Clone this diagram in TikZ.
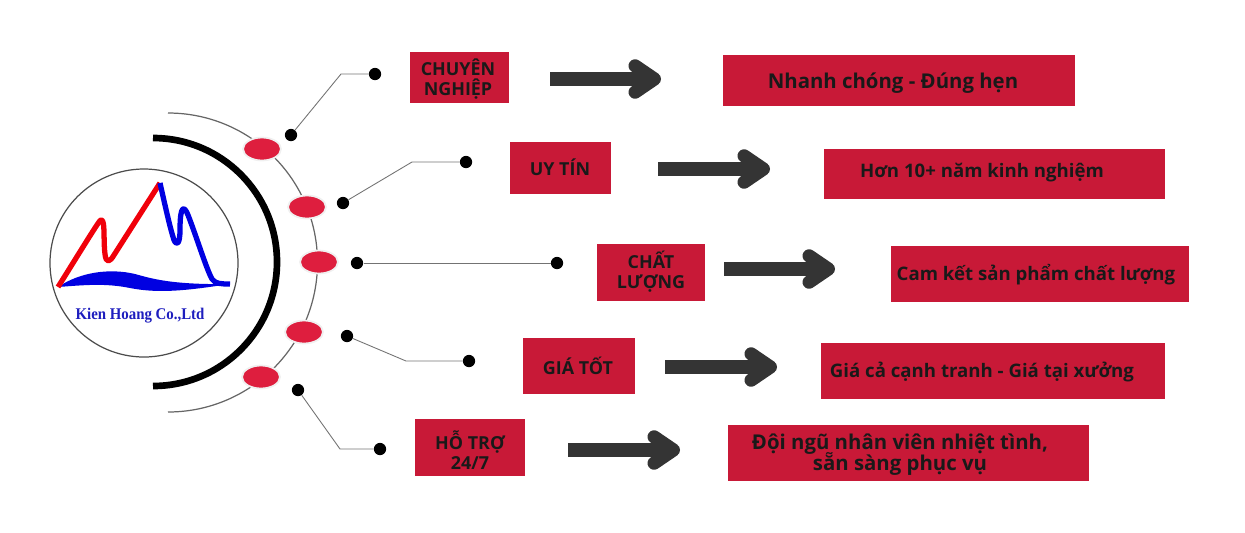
\documentclass[tikz,border=0pt]{standalone}
\usepackage{fontspec}
\setmainfont{Open Sans}
\newfontfamily\logofont{Liberation Serif}
\usetikzlibrary{arrows.meta,shapes.geometric}
\definecolor{boxred}{RGB}{200,25,55}
\definecolor{dotred}{RGB}{222,30,62}
\definecolor{arrowgray}{RGB}{52,52,52}
\definecolor{logoblue}{RGB}{0,0,225}
\definecolor{logotextblue}{RGB}{30,30,190}
\definecolor{logored}{RGB}{240,0,10}
\tikzset{
    labelbox/.style={fill=boxred,inner sep=0pt,align=center,font=\bfseries\fontsize{10.2}{11.5}\selectfont,text=black!90},
    resultbox/.style={fill=boxred,inner sep=0pt,align=center,font=\bfseries\fontsize{10.6}{12.4}\selectfont,text=black!90},
    bigtext/.style={font=\bfseries\fontsize{11.6}{12.4}\selectfont},
    reddot/.style={ellipse,fill=dotred,draw=black!6,line width=1pt,inner sep=0pt,minimum width=38*0.02cm,minimum height=23*0.02cm},
    blackdot/.style={circle,fill=black,inner sep=0pt,minimum size=7pt},
    leader/.style={draw=black!55,line width=0.5pt},
    bigarrow/.style={draw=arrowgray,line width=8.5pt,-{Straight Barb[length=11pt,width=15pt,line width=7.5pt,round]}}
}
\begin{document}
\begin{tikzpicture}[x=0.02cm,y=-0.02cm]
    \useasboundingbox (0,0) rectangle (1245,532);

    % Draw the logo
    \node[circle,draw=black!70,line width=0.7pt,minimum size=188*0.02cm,inner sep=0pt] (logo) at (144,263) {};
    \fill[logoblue] (58,287) .. controls (80,272) and (110,268) .. (135,274) .. controls (150,278) and (170,285) .. (230,284) .. controls (190,290) and (160,294) .. (130,288) .. controls (105,283) and (85,285) .. (58,287);
    \draw[logored,line width=3pt,line join=round] (58,287) .. controls (75,260) and (92,232) .. (99,222) .. controls (106,212) and (103,240) .. (105,254) .. controls (106,264) and (110,262) .. (114,255) -- (160,183);
    \draw[logoblue,line width=3pt,line join=round] (160,183) .. controls (165,205) and (170,228) .. (174,240) .. controls (177,247) and (180,243) .. (180,230) .. controls (180,205) and (184,205) .. (188,215) .. controls (197,238) and (206,268) .. (212,279) .. controls (215,284) and (222,284) .. (230,284);
    \node[text=logotextblue,font=\logofont\bfseries\fontsize{9.3}{10}\selectfont,inner sep=0pt,xscale=0.91] (logotext) at (140,316) {Kien Hoang Co.,Ltd};

    % Draw the arcs
    \draw[black,line width=3.8pt] (153,138) arc (-90:90:124);
    \draw[black!60,line width=0.7pt] (168,113) arc (-90:90:149.5);

    % Draw the red dots
    \node[reddot] (red1) at (262,149) {};
    \node[reddot] (red2) at (307,207) {};
    \node[reddot] (red3) at (319,262) {};
    \node[reddot] (red4) at (304,332) {};
    \node[reddot] (red5) at (261,377) {};

    % Draw the leaders
    \node[blackdot] (near1) at (291,135) {};
    \node[blackdot] (near2) at (343,203) {};
    \node[blackdot] (near3) at (357,263) {};
    \node[blackdot] (near4) at (347,336) {};
    \node[blackdot] (near5) at (298,390) {};
    \node[blackdot] (far1) at (375,74) {};
    \node[blackdot] (far2) at (466,162) {};
    \node[blackdot] (far3) at (557,263) {};
    \node[blackdot] (far4) at (469,361) {};
    \node[blackdot] (far5) at (380,449) {};
    \coordinate (bend1) at (341,74);
    \coordinate (bend2) at (412,162);
    \coordinate (bend4) at (406,361);
    \coordinate (bend5) at (340,449);
    \draw[leader] (near1) -- (bend1) -- (far1);
    \draw[leader] (near2) -- (bend2) -- (far2);
    \draw[leader] (near3) -- (far3);
    \draw[leader] (near4) -- (bend4) -- (far4);
    \draw[leader] (near5) -- (bend5) -- (far5);

    % Draw the labels
    \node[labelbox,minimum width=99*0.02cm,minimum height=51*0.02cm] (label1) at (459.5,77.5) {};
    \node[labelbox,minimum width=101*0.02cm,minimum height=52*0.02cm] (label2) at (560.5,168) {};
    \node[labelbox,minimum width=108*0.02cm,minimum height=57*0.02cm] (label3) at (651,272.5) {};
    \node[labelbox,minimum width=112*0.02cm,minimum height=56*0.02cm] (label4) at (579,366) {};
    \node[labelbox,minimum width=110*0.02cm,minimum height=57*0.02cm] (label5) at (470,447.5) {};
    \node[labelbox,fill=none] (name1) at (458,79) {CHUYÊN\\[-0.6pt]NGHIỆP};
    \node[labelbox,fill=none] (name2) at (560,167) {UY TÍN};
    \node[labelbox,fill=none] (name3) at (651,272) {CHẤT\\LƯỢNG};
    \node[labelbox,fill=none] (name4) at (578,366) {GIÁ TỐT};
    \node[labelbox,fill=none] (name5) at (470,450) {HỖ TRỢ\\24/7};

    % Draw the results
    \node[resultbox,minimum width=352*0.02cm,minimum height=51*0.02cm] (result1) at (899,80.5) {};
    \node[resultbox,minimum width=341*0.02cm,minimum height=50*0.02cm] (result2) at (994.5,174) {};
    \node[resultbox,minimum width=298*0.02cm,minimum height=56*0.02cm] (result3) at (1040,274) {};
    \node[resultbox,minimum width=344*0.02cm,minimum height=56*0.02cm] (result4) at (993,371) {};
    \node[resultbox,minimum width=361*0.02cm,minimum height=56*0.02cm] (result5) at (908.5,453) {};
    \node[resultbox,bigtext,fill=none] (text1) at (893,83) {Nhanh chóng - Đúng hẹn};
    \node[resultbox,fill=none] (text2) at (982,173) {Hơn 10+ năm kinh nghiệm};
    \node[resultbox,fill=none] (text3) at (1036,275) {Cam kết sản phẩm chất lượng};
    \node[resultbox,fill=none] (text4) at (982,372) {Giá cả cạnh tranh - Giá tại xưởng};
    \node[resultbox,bigtext,fill=none] (text5) at (900,455) {Đội ngũ nhân viên nhiệt tình,\\[-2.2pt]sẵn sàng phục vụ};

    % Draw the arrows
    \coordinate (from1) at (550,79);
    \coordinate (to1) at (661,79);
    \coordinate (from2) at (658,169);
    \coordinate (to2) at (770,169);
    \coordinate (from3) at (724,269);
    \coordinate (to3) at (835,269);
    \coordinate (from4) at (665,367);
    \coordinate (to4) at (777,367);
    \coordinate (from5) at (568,450);
    \coordinate (to5) at (680,450);
    \draw[bigarrow] (from1) -- (to1);
    \draw[bigarrow] (from2) -- (to2);
    \draw[bigarrow] (from3) -- (to3);
    \draw[bigarrow] (from4) -- (to4);
    \draw[bigarrow] (from5) -- (to5);
\end{tikzpicture}
\end{document}
